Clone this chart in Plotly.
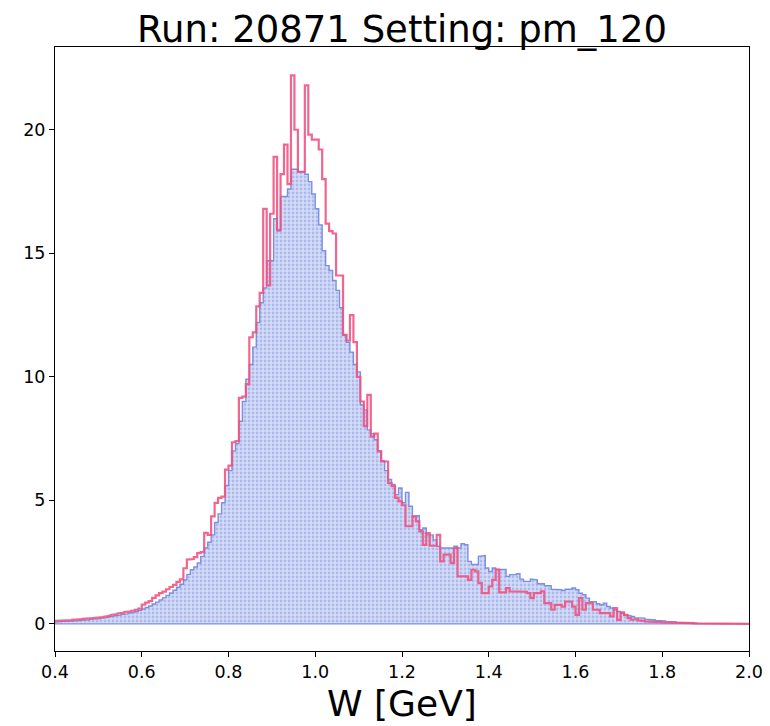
import numpy as np
import plotly.graph_objects as go

# Histogram binning in W [GeV]
bin_start = 0.40
bin_width = 0.008
n_bins = 200

# Reference (simulation) histogram contents, one value per bin
sim_counts = [
    0.08, 0.09, 0.10, 0.10, 0.11, 0.12, 0.13, 0.14, 0.15, 0.16,
    0.18, 0.19, 0.21, 0.23, 0.25, 0.27, 0.30, 0.32, 0.35, 0.38,
    0.40, 0.43, 0.46, 0.50, 0.55, 0.60, 0.66, 0.72, 0.80, 0.88,
    0.97, 1.06, 1.15, 1.25, 1.36, 1.48, 1.60, 1.78, 2.00, 2.19,
    2.30, 2.46, 2.73, 3.07, 3.30, 3.60, 4.10, 4.45, 4.90, 5.60,
    6.20, 7.00, 7.30, 8.20, 9.00, 9.90, 10.50, 11.20, 12.20, 13.00,
    13.60, 14.70, 14.70, 16.40, 15.90, 17.30, 17.30, 17.60, 18.40, 18.40,
    18.30, 18.30, 18.20, 17.90, 17.40, 16.80, 16.15, 15.10, 14.50, 14.30,
    13.90, 13.50, 12.80, 11.70, 11.40, 11.00, 10.50, 10.20, 8.87, 8.66,
    7.85, 7.70, 7.45, 7.00, 6.60, 6.20, 5.84, 5.64, 5.23, 5.50,
    4.90, 5.32, 4.76, 4.35, 4.38, 3.81, 3.88, 3.60, 3.60, 3.40,
    3.14, 3.07, 3.07, 3.07, 3.07, 3.14, 3.07, 3.24, 3.20, 2.53,
    2.40, 2.40, 2.73, 2.76, 2.26, 2.12, 2.26, 2.20, 2.20, 2.20,
    1.92, 1.99, 1.99, 2.03, 1.81, 1.72, 1.72, 1.81, 1.78, 1.62,
    1.62, 1.54, 1.54, 1.40, 1.38, 1.38, 1.35, 1.40, 1.40, 1.45,
    1.38, 1.24, 1.18, 1.04, 0.90, 0.90, 0.81, 0.77, 0.84, 0.70,
    0.64, 0.57, 0.50, 0.43, 0.36, 0.33, 0.30, 0.25, 0.23, 0.23,
    0.19, 0.19, 0.16, 0.14, 0.12, 0.12, 0.10, 0.10, 0.08, 0.06,
    0.05, 0.05, 0.04, 0.04, 0.03, 0.02, 0.01, 0.00, 0.00, 0.00,
    0.00, 0.00, 0.00, 0.00, 0.00, 0.00, 0.00, 0.00, 0.00, 0.00,
]

# Data histogram contents, one value per bin
data_counts = [
    0.12, 0.12, 0.13, 0.14, 0.15, 0.16, 0.17, 0.19, 0.20, 0.22,
    0.23, 0.24, 0.25, 0.27, 0.29, 0.32, 0.36, 0.39, 0.42, 0.45,
    0.48, 0.50, 0.53, 0.57, 0.62, 0.78, 0.86, 0.92, 1.05, 1.15,
    1.24, 1.30, 1.40, 1.49, 1.58, 1.70, 1.80, 2.25, 2.60, 2.62,
    2.70, 2.86, 2.90, 3.68, 3.60, 4.35, 4.90, 5.10, 5.15, 6.24,
    6.40, 7.35, 7.40, 9.15, 9.20, 9.70, 11.60, 11.80, 12.85, 13.40,
    16.80, 13.70, 16.60, 18.90, 15.95, 18.20, 19.40, 17.80, 22.20, 20.00,
    18.30, 18.30, 21.80, 19.80, 19.60, 19.60, 19.20, 18.00, 16.20, 15.90,
    15.80, 14.10, 14.10, 11.70, 11.47, 12.50, 11.40, 10.00, 9.00, 8.00,
    9.27, 7.58, 7.70, 6.98, 6.57, 6.57, 5.70, 5.57, 5.10, 4.96,
    4.80, 3.95, 3.95, 4.35, 4.15, 3.74, 3.20, 3.67, 3.16, 3.16,
    3.60, 2.53, 2.80, 2.80, 2.46, 3.07, 1.92, 1.92, 1.92, 1.78,
    2.19, 2.12, 1.65, 1.24, 1.24, 1.51, 1.78, 2.20, 1.27, 1.27,
    1.45, 1.31, 1.31, 1.31, 1.30, 1.30, 1.24, 1.04, 1.24, 1.24,
    1.31, 0.84, 0.84, 0.57, 0.77, 0.77, 0.70, 0.90, 0.90, 0.70,
    0.36, 1.04, 0.57, 0.84, 0.84, 0.57, 0.57, 0.43, 0.43, 0.43,
    0.30, 0.64, 0.16, 0.46, 0.36, 0.23, 0.16, 0.19, 0.14, 0.12,
    0.10, 0.10, 0.08, 0.07, 0.07, 0.06, 0.05, 0.05, 0.04, 0.04,
    0.04, 0.03, 0.03, 0.03, 0.02, 0.00, 0.00, 0.00, 0.00, 0.00,
    0.00, 0.00, 0.00, 0.00, 0.00, 0.00, 0.00, 0.00, 0.00, 0.00,
]

x_ticks = [0.4, 0.6, 0.8, 1.0, 1.2, 1.4, 1.6, 1.8, 2.0]
x_tick_labels = ["0.4", "0.6", "0.8", "1.0", "1.2", "1.4", "1.6", "1.8", "2.0"]
y_ticks = [0, 5, 10, 15, 20]
y_tick_labels = ["0", "5", "10", "15", "20"]

title_text = "Run: 20871 Setting: pm_120"
x_title = "W [GeV]"

edges = bin_start + bin_width * np.arange(n_bins + 1)


def step_outline(counts, closed):
    """Return x/y of a histogram step outline built from bin edges."""
    xs, ys = [], []
    if closed:
        xs.append(edges[0])
        ys.append(0.0)
    for i, c in enumerate(counts):
        xs += [edges[i], edges[i + 1]]
        ys += [c, c]
    xs.append(edges[-1])
    ys.append(0.0)
    if closed:
        xs.append(edges[0])
        ys.append(0.0)
    return xs, ys


sx, sy = step_outline(sim_counts, closed=True)
dx, dy = step_outline(data_counts, closed=False)

FONT = "DejaVu Sans"

fig = go.Figure()

fig.add_trace(go.Scatter(
    x=sx, y=sy, mode="lines", fill="toself",
    line=dict(color="rgba(105,128,222,0.85)", width=1.4),
    fillcolor="rgba(210,218,245,1)",
    fillpattern=dict(shape=".", fgcolor="rgba(110,132,222,0.8)",
                     bgcolor="rgba(212,220,246,1)", size=4, solidity=0.38),
    hoverinfo="skip", showlegend=False,
))

fig.add_trace(go.Scatter(
    x=dx, y=dy, mode="lines",
    line=dict(color="rgba(240,80,128,0.88)", width=2.2),
    hoverinfo="skip", showlegend=False,
))

fig.update_layout(
    width=770, height=726,
    margin=dict(l=55, r=21, t=47, b=75, autoexpand=False),
    paper_bgcolor="white", plot_bgcolor="white",
    font=dict(family=FONT, color="black"),
    title=dict(text=title_text, x=0.5, xref="paper", xanchor="center",
               y=1 - 29 / 726, yref="container", yanchor="middle",
               font=dict(family=FONT, size=37, color="black")),
    annotations=[dict(
        text=x_title, xref="paper", yref="paper", x=0.5, y=0,
        xanchor="center", yanchor="middle", yshift=-52, showarrow=False,
        font=dict(family=FONT, size=36, color="black"),
    )],
)

fig.update_xaxes(
    range=[0.4, 2.0], tickvals=x_ticks, ticktext=x_tick_labels,
    ticks="outside", ticklen=5, tickwidth=1, tickcolor="black",
    tickfont=dict(family=FONT, size=17.5, color="black"),
    showline=True, linecolor="black", linewidth=1, mirror=True,
    showgrid=False, zeroline=False, automargin=False,
)

fig.update_yaxes(
    range=[-1.1, 23.35], tickvals=y_ticks, ticktext=y_tick_labels,
    ticks="outside", ticklen=5, tickwidth=1, tickcolor="black",
    tickfont=dict(family=FONT, size=17.5, color="black"),
    showline=True, linecolor="black", linewidth=1, mirror=True,
    showgrid=False, zeroline=False, automargin=False,
)

fig.write_html("out.html")
